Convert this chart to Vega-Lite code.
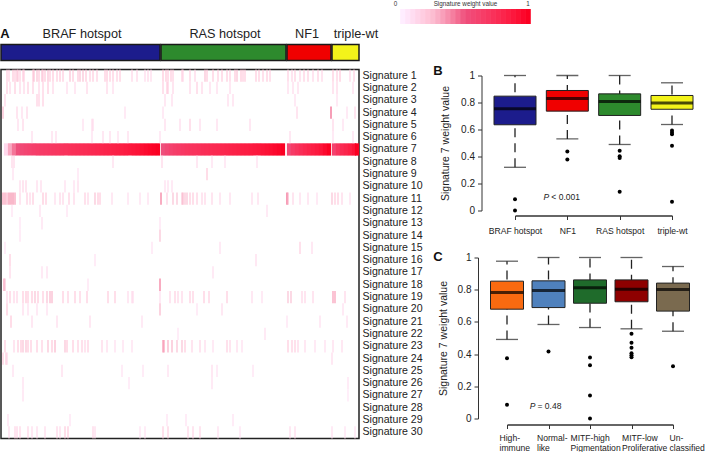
{"$schema":"https://vega.github.io/schema/vega-lite/v6.json","padding":{"left":0,"top":0,"right":0,"bottom":0},"bounds":"flush","spacing":20.5,"resolve":{"scale":{"fill":"independent"}},"config":{"view":{"stroke":null},"font":"Liberation Sans","axis":{"grid":false,"labelOverlap":false},"axisQuantitative":{"labelOverlap":false},"rect":{"continuousBandSize":1.1}},
"vconcat":[
{"width":358,"height":15,"data":{"values":[{"v":0},{"v":0.04},{"v":0.08},{"v":0.12},{"v":0.16},{"v":0.2},{"v":0.24},{"v":0.28},{"v":0.32},{"v":0.36},{"v":0.4},{"v":0.44},{"v":0.48},{"v":0.52},{"v":0.56},{"v":0.6},{"v":0.64},{"v":0.68},{"v":0.72},{"v":0.76},{"v":0.8},{"v":0.84},{"v":0.88},{"v":0.92},{"v":0.96},{"v":1}]},
"layer":[
{"mark":{"type":"rect","width":5.6},"encoding":{"x":{"field":"v","type":"quantitative","axis":null,"scale":{"domain":[0,1],"range":[402,527],"nice":false,"zero":false}},"color":{"field":"v","type":"quantitative","legend":null,"scale":{"domain":[0,0.25,0.5,1],"range":["#ffffff","#fabbcf","#ee4f7c","#fb0022"]}}}},
{"data":{"values":[{"v":-0.06,"label":"0"},{"v":1,"label":"1"},{"v":0.5,"label":"Signature weight value"}]},"mark":{"type":"text","fontSize":6.3,"dy":-13,"color":"#333"},"encoding":{"x":{"field":"v","type":"quantitative"},"text":{"field":"label"}}}
]},
{"bounds":"flush","resolve":{"scale":{"fill":"independent"}},"hconcat":[
{"bounds":"flush","resolve":{"scale":{"fill":"independent"}},"vconcat":[
{"width":358,"height":16,"data":{"values":[{"group":"BRAF hotspot","start":1,"end":160,"label_at":82},{"group":"RAS hotspot","start":161,"end":286,"label_at":225},{"group":"NF1","start":287,"end":331,"label_at":307},{"group":"triple-wt","start":332,"end":359,"label_at":356}]},
"layer":[
{"mark":{"type":"rect","stroke":"#1a1a1a","strokeWidth":1.5},"encoding":{"x":{"field":"start","type":"quantitative","axis":null,"scale":{"domain":[1,359],"nice":false,"zero":false}},"x2":{"field":"end"},"fill":{"field":"group","type":"nominal","legend":null,"scale":{"domain":["BRAF hotspot","RAS hotspot","NF1","triple-wt"],"range":["#1c1c8c","#2d8a2d","#f00000","#f3f31a"]}}}},
{"mark":{"type":"text","fontSize":12.7,"dy":-19,"color":"#222"},"encoding":{"x":{"field":"label_at","type":"quantitative"},"text":{"field":"group"}}},
{"data":{"values":[{"at":1,"letter":"A"}]},"mark":{"type":"text","fontSize":13,"fontWeight":"bold","dy":-19,"dx":4,"color":"#111"},"encoding":{"x":{"field":"at","type":"quantitative"},"text":{"field":"letter"}}}
]},
{"width":358,"height":369,"view":{"stroke":"#222","strokeWidth":1.5},"data":{"values":[
{"sig":7,"pos":6,"w":0.1},{"sig":7,"pos":10,"w":0.3},{"sig":7,"pos":14,"w":0.42},{"sig":7,"pos":18,"w":0.5},{"sig":7,"pos":22,"w":0.55},{"sig":7,"pos":26,"w":0.58},{"sig":7,"pos":30,"w":0.6},{"sig":7,"pos":34,"w":0.62},{"sig":7,"pos":38,"w":0.635},{"sig":7,"pos":42,"w":0.65},{"sig":7,"pos":46,"w":0.66},{"sig":7,"pos":50,"w":0.67},{"sig":7,"pos":54,"w":0.68},{"sig":7,"pos":58,"w":0.69},{"sig":7,"pos":62,"w":0.7},{"sig":7,"pos":66,"w":0.71},{"sig":7,"pos":70,"w":0.72},{"sig":7,"pos":74,"w":0.73},{"sig":7,"pos":78,"w":0.74},{"sig":7,"pos":82,"w":0.75},{"sig":7,"pos":86,"w":0.755},{"sig":7,"pos":90,"w":0.765},{"sig":7,"pos":94,"w":0.775},{"sig":7,"pos":98,"w":0.785},{"sig":7,"pos":102,"w":0.795},{"sig":7,"pos":106,"w":0.805},{"sig":7,"pos":110,"w":0.815},{"sig":7,"pos":114,"w":0.825},{"sig":7,"pos":118,"w":0.835},{"sig":7,"pos":122,"w":0.845},{"sig":7,"pos":126,"w":0.86},{"sig":7,"pos":130,"w":0.875},{"sig":7,"pos":134,"w":0.89},{"sig":7,"pos":138,"w":0.905},{"sig":7,"pos":142,"w":0.925},{"sig":7,"pos":146,"w":0.945},{"sig":7,"pos":150,"w":0.965},{"sig":7,"pos":154,"w":0.98},{"sig":7,"pos":158,"w":1},
{"sig":7,"pos":163,"w":0.5},{"sig":7,"pos":167,"w":0.56},{"sig":7,"pos":171,"w":0.6},{"sig":7,"pos":175,"w":0.63},{"sig":7,"pos":179,"w":0.65},{"sig":7,"pos":183,"w":0.67},{"sig":7,"pos":187,"w":0.69},{"sig":7,"pos":191,"w":0.7},{"sig":7,"pos":195,"w":0.71},{"sig":7,"pos":199,"w":0.72},{"sig":7,"pos":203,"w":0.74},{"sig":7,"pos":207,"w":0.75},{"sig":7,"pos":211,"w":0.76},{"sig":7,"pos":215,"w":0.77},{"sig":7,"pos":219,"w":0.78},{"sig":7,"pos":223,"w":0.79},{"sig":7,"pos":227,"w":0.8},{"sig":7,"pos":231,"w":0.81},{"sig":7,"pos":235,"w":0.82},{"sig":7,"pos":239,"w":0.83},{"sig":7,"pos":243,"w":0.84},{"sig":7,"pos":247,"w":0.85},{"sig":7,"pos":251,"w":0.86},{"sig":7,"pos":255,"w":0.87},{"sig":7,"pos":259,"w":0.885},{"sig":7,"pos":263,"w":0.9},{"sig":7,"pos":267,"w":0.915},{"sig":7,"pos":271,"w":0.93},{"sig":7,"pos":275,"w":0.95},{"sig":7,"pos":279,"w":0.97},{"sig":7,"pos":283,"w":1},
{"sig":7,"pos":289,"w":0.55},{"sig":7,"pos":293,"w":0.65},{"sig":7,"pos":297,"w":0.7},{"sig":7,"pos":301,"w":0.74},{"sig":7,"pos":305,"w":0.78},{"sig":7,"pos":309,"w":0.81},{"sig":7,"pos":313,"w":0.84},{"sig":7,"pos":317,"w":0.87},{"sig":7,"pos":321,"w":0.9},{"sig":7,"pos":325,"w":0.95},{"sig":7,"pos":329,"w":1},
{"sig":7,"pos":334,"w":0.6},{"sig":7,"pos":338,"w":0.7},{"sig":7,"pos":342,"w":0.76},{"sig":7,"pos":346,"w":0.8},{"sig":7,"pos":350,"w":0.84},{"sig":7,"pos":354,"w":0.9},{"sig":7,"pos":357,"w":1}
]},
"layer":[
{"mark":{"type":"rect","width":4.2},"encoding":{"x":{"field":"pos","type":"quantitative","axis":null,"scale":{"domain":[1,359],"nice":false,"zero":false}},"y":{"field":"sig","type":"ordinal","scale":{"domain":[1,2,3,4,5,6,7,8,9,10,11,12,13,14,15,16,17,18,19,20,21,22,23,24,25,26,27,28,29,30],"paddingInner":0,"paddingOuter":0},"axis":{"orient":"right","title":null,"ticks":false,"domain":false,"labelExpr":"'Signature '+datum.label","labelFontSize":10.6,"labelColor":"#222","labelPadding":3}},"color":{"field":"w","type":"quantitative","legend":null,"scale":{"domain":[0,0.25,0.5,1],"range":["#ffffff","#fabbcf","#ee4f7c","#fb0022"]}}}},
{"data":{"values":[
{"sig":1,"pos":7,"w":0.2},{"sig":1,"pos":9,"w":0.18},{"sig":1,"pos":13,"w":0.22},{"sig":1,"pos":15,"w":0.2},{"sig":1,"pos":17,"w":0.25},{"sig":1,"pos":18,"w":0.2},{"sig":1,"pos":20,"w":0.18},{"sig":1,"pos":23,"w":0.2},{"sig":1,"pos":24,"w":0.18},{"sig":1,"pos":33,"w":0.22},{"sig":1,"pos":34,"w":0.25},{"sig":1,"pos":37,"w":0.25},{"sig":1,"pos":39,"w":0.22},{"sig":1,"pos":42,"w":0.25},{"sig":1,"pos":43,"w":0.2},{"sig":1,"pos":45,"w":0.22},{"sig":1,"pos":48,"w":0.25},{"sig":1,"pos":50,"w":0.2},{"sig":1,"pos":53,"w":0.22},{"sig":1,"pos":57,"w":0.2},{"sig":1,"pos":60,"w":0.22},{"sig":1,"pos":63,"w":0.2},{"sig":1,"pos":70,"w":0.25},{"sig":1,"pos":73,"w":0.22},{"sig":1,"pos":78,"w":0.22},{"sig":1,"pos":80,"w":0.25},{"sig":1,"pos":83,"w":0.25},{"sig":1,"pos":86,"w":0.22},{"sig":1,"pos":90,"w":0.18},{"sig":1,"pos":93,"w":0.2},{"sig":1,"pos":97,"w":0.18},{"sig":1,"pos":105,"w":0.2},{"sig":1,"pos":107,"w":0.22},{"sig":1,"pos":110,"w":0.2},{"sig":1,"pos":113,"w":0.2},{"sig":1,"pos":117,"w":0.18},{"sig":1,"pos":120,"w":0.2},{"sig":1,"pos":132,"w":0.15},{"sig":1,"pos":137,"w":0.15},{"sig":1,"pos":145,"w":0.12},{"sig":1,"pos":148,"w":0.14},{"sig":1,"pos":151,"w":0.12},{"sig":1,"pos":163,"w":0.22},{"sig":1,"pos":166,"w":0.22},{"sig":1,"pos":168,"w":0.2},{"sig":1,"pos":171,"w":0.2},{"sig":1,"pos":173,"w":0.18},{"sig":1,"pos":182,"w":0.18},{"sig":1,"pos":183,"w":0.15},{"sig":1,"pos":190,"w":0.18},{"sig":1,"pos":195,"w":0.15},{"sig":1,"pos":205,"w":0.25},{"sig":1,"pos":207,"w":0.22},{"sig":1,"pos":213,"w":0.2},{"sig":1,"pos":218,"w":0.18},{"sig":1,"pos":222,"w":0.2},{"sig":1,"pos":227,"w":0.2},{"sig":1,"pos":230,"w":0.18},{"sig":1,"pos":235,"w":0.22},{"sig":1,"pos":237,"w":0.25},{"sig":1,"pos":241,"w":0.22},{"sig":1,"pos":243,"w":0.2},{"sig":1,"pos":245,"w":0.2},{"sig":1,"pos":256,"w":0.2},{"sig":1,"pos":259,"w":0.2},{"sig":1,"pos":263,"w":0.18},{"sig":1,"pos":267,"w":0.2},{"sig":1,"pos":270,"w":0.18},{"sig":1,"pos":288,"w":0.18},{"sig":1,"pos":292,"w":0.15},{"sig":1,"pos":295,"w":0.18},{"sig":1,"pos":300,"w":0.15},{"sig":1,"pos":304,"w":0.18},{"sig":1,"pos":308,"w":0.18},{"sig":1,"pos":313,"w":0.15},{"sig":1,"pos":318,"w":0.18},{"sig":1,"pos":322,"w":0.15},{"sig":1,"pos":333,"w":0.2},{"sig":1,"pos":337,"w":0.18},{"sig":1,"pos":340,"w":0.22},{"sig":1,"pos":350,"w":0.15},{"sig":1,"pos":354,"w":0.18},
{"sig":2,"pos":7,"w":0.2},{"sig":2,"pos":10,"w":0.15},{"sig":2,"pos":15,"w":0.2},{"sig":2,"pos":20,"w":0.15},{"sig":2,"pos":24,"w":0.15},{"sig":2,"pos":28,"w":0.18},{"sig":2,"pos":33,"w":0.18},{"sig":2,"pos":39,"w":0.15},{"sig":2,"pos":43,"w":0.18},{"sig":2,"pos":48,"w":0.2},{"sig":2,"pos":53,"w":0.15},{"sig":2,"pos":67,"w":0.12},{"sig":2,"pos":75,"w":0.12},{"sig":2,"pos":87,"w":0.15},{"sig":2,"pos":107,"w":0.15},{"sig":2,"pos":113,"w":0.12},{"sig":2,"pos":163,"w":0.18},{"sig":2,"pos":167,"w":0.2},{"sig":2,"pos":168,"w":0.18},{"sig":2,"pos":173,"w":0.15},{"sig":2,"pos":190,"w":0.15},{"sig":2,"pos":197,"w":0.18},{"sig":2,"pos":202,"w":0.15},{"sig":2,"pos":210,"w":0.12},{"sig":2,"pos":217,"w":0.12},{"sig":2,"pos":230,"w":0.12},{"sig":2,"pos":288,"w":0.12},{"sig":2,"pos":293,"w":0.12},{"sig":2,"pos":298,"w":0.12},{"sig":2,"pos":333,"w":0.15},{"sig":2,"pos":337,"w":0.15},{"sig":2,"pos":353,"w":0.12},
{"sig":3,"pos":5,"w":0.15},{"sig":3,"pos":37,"w":0.18},{"sig":3,"pos":39,"w":0.18},{"sig":3,"pos":43,"w":0.18},{"sig":3,"pos":165,"w":0.12},{"sig":3,"pos":172,"w":0.12},{"sig":3,"pos":228,"w":0.12},{"sig":3,"pos":233,"w":0.12},{"sig":3,"pos":295,"w":0.1},{"sig":3,"pos":337,"w":0.1},
{"sig":4,"pos":3,"w":0.28},{"sig":4,"pos":17,"w":0.15},{"sig":4,"pos":22,"w":0.12},{"sig":4,"pos":27,"w":0.15},{"sig":4,"pos":125,"w":0.1},{"sig":4,"pos":163,"w":0.1},{"sig":4,"pos":297,"w":0.15},{"sig":4,"pos":331,"w":0.5},{"sig":4,"pos":347,"w":0.1},{"sig":4,"pos":355,"w":0.15},
{"sig":5,"pos":18,"w":0.12},{"sig":5,"pos":23,"w":0.15},{"sig":5,"pos":83,"w":0.1},{"sig":5,"pos":92,"w":0.12},{"sig":5,"pos":93,"w":0.12},{"sig":5,"pos":165,"w":0.12},{"sig":5,"pos":180,"w":0.12},{"sig":5,"pos":190,"w":0.18},{"sig":5,"pos":200,"w":0.12},{"sig":5,"pos":217,"w":0.12},{"sig":5,"pos":250,"w":0.12},{"sig":5,"pos":333,"w":0.15},{"sig":5,"pos":343,"w":0.1},
{"sig":6,"pos":32,"w":0.12},{"sig":6,"pos":52,"w":0.12},{"sig":6,"pos":56,"w":0.12},{"sig":6,"pos":92,"w":0.1},{"sig":6,"pos":103,"w":0.12},{"sig":6,"pos":110,"w":0.12},{"sig":6,"pos":118,"w":0.1},{"sig":6,"pos":128,"w":0.12},{"sig":6,"pos":160,"w":0.1},{"sig":6,"pos":290,"w":0.12},{"sig":6,"pos":333,"w":0.1},{"sig":6,"pos":353,"w":0.1},
{"sig":8,"pos":12,"w":0.15},{"sig":8,"pos":14,"w":0.15},{"sig":8,"pos":113,"w":0.12},{"sig":8,"pos":162,"w":0.15},{"sig":8,"pos":197,"w":0.12},{"sig":8,"pos":212,"w":0.1},{"sig":8,"pos":225,"w":0.1},{"sig":8,"pos":257,"w":0.1},
{"sig":9,"pos":13,"w":0.1},{"sig":9,"pos":78,"w":0.08},{"sig":9,"pos":207,"w":0.22},
{"sig":10,"pos":20,"w":0.12},{"sig":10,"pos":23,"w":0.15},{"sig":10,"pos":26,"w":0.15},{"sig":10,"pos":37,"w":0.12},{"sig":10,"pos":41,"w":0.12},{"sig":10,"pos":65,"w":0.1},{"sig":10,"pos":74,"w":0.1},{"sig":10,"pos":78,"w":0.12},{"sig":10,"pos":165,"w":0.1},{"sig":10,"pos":168,"w":0.1},{"sig":10,"pos":172,"w":0.1},
{"sig":11,"pos":3,"w":0.35},{"sig":11,"pos":5,"w":0.35},{"sig":11,"pos":7,"w":0.3},{"sig":11,"pos":9,"w":0.4},{"sig":11,"pos":11,"w":0.4},{"sig":11,"pos":13,"w":0.4},{"sig":11,"pos":15,"w":0.35},{"sig":11,"pos":20,"w":0.15},{"sig":11,"pos":27,"w":0.18},{"sig":11,"pos":30,"w":0.15},{"sig":11,"pos":33,"w":0.2},{"sig":11,"pos":43,"w":0.22},{"sig":11,"pos":46,"w":0.2},{"sig":11,"pos":55,"w":0.12},{"sig":11,"pos":60,"w":0.15},{"sig":11,"pos":63,"w":0.15},{"sig":11,"pos":69,"w":0.18},{"sig":11,"pos":74,"w":0.15},{"sig":11,"pos":85,"w":0.18},{"sig":11,"pos":88,"w":0.15},{"sig":11,"pos":95,"w":0.25},{"sig":11,"pos":98,"w":0.22},{"sig":11,"pos":100,"w":0.2},{"sig":11,"pos":112,"w":0.12},{"sig":11,"pos":128,"w":0.1},{"sig":11,"pos":140,"w":0.1},{"sig":11,"pos":148,"w":0.1},
{"sig":11,"pos":161,"w":0.45},{"sig":11,"pos":167,"w":0.18},{"sig":11,"pos":173,"w":0.25},{"sig":11,"pos":177,"w":0.25},{"sig":11,"pos":182,"w":0.25},{"sig":11,"pos":183,"w":0.28},{"sig":11,"pos":185,"w":0.25},{"sig":11,"pos":187,"w":0.25},{"sig":11,"pos":190,"w":0.2},{"sig":11,"pos":193,"w":0.2},{"sig":11,"pos":197,"w":0.18},{"sig":11,"pos":202,"w":0.15},{"sig":11,"pos":205,"w":0.15},{"sig":11,"pos":212,"w":0.15},{"sig":11,"pos":220,"w":0.12},{"sig":11,"pos":230,"w":0.12},{"sig":11,"pos":252,"w":0.12},{"sig":11,"pos":258,"w":0.12},
{"sig":11,"pos":287,"w":0.5},{"sig":11,"pos":288,"w":0.3},{"sig":11,"pos":293,"w":0.15},{"sig":11,"pos":300,"w":0.12},{"sig":11,"pos":308,"w":0.12},{"sig":11,"pos":317,"w":0.1},{"sig":11,"pos":332,"w":0.25},{"sig":11,"pos":335,"w":0.2},{"sig":11,"pos":338,"w":0.2},{"sig":11,"pos":342,"w":0.15},{"sig":11,"pos":350,"w":0.1},
{"sig":12,"pos":12,"w":0.08},{"sig":12,"pos":40,"w":0.1},{"sig":12,"pos":67,"w":0.08},{"sig":12,"pos":267,"w":0.1},
{"sig":13,"pos":20,"w":0.07},{"sig":13,"pos":42,"w":0.1},{"sig":13,"pos":160,"w":0.08},
{"sig":14,"pos":20,"w":0.08},{"sig":14,"pos":160,"w":0.25},
{"sig":15,"pos":5,"w":0.07},{"sig":15,"pos":152,"w":0.08},{"sig":15,"pos":220,"w":0.1},{"sig":15,"pos":300,"w":0.18},{"sig":15,"pos":312,"w":0.12},
{"sig":16,"pos":10,"w":0.2},{"sig":16,"pos":95,"w":0.08},{"sig":16,"pos":256,"w":0.12},
{"sig":17,"pos":10,"w":0.15},{"sig":17,"pos":42,"w":0.1},{"sig":17,"pos":47,"w":0.1},{"sig":17,"pos":213,"w":0.1},
{"sig":18,"pos":4,"w":0.35},{"sig":18,"pos":5,"w":0.25},{"sig":18,"pos":88,"w":0.08},{"sig":18,"pos":160,"w":0.45},
{"sig":19,"pos":7,"w":0.15},{"sig":19,"pos":10,"w":0.2},{"sig":19,"pos":14,"w":0.15},{"sig":19,"pos":17,"w":0.15},{"sig":19,"pos":23,"w":0.2},{"sig":19,"pos":26,"w":0.22},{"sig":19,"pos":28,"w":0.2},{"sig":19,"pos":32,"w":0.22},{"sig":19,"pos":35,"w":0.25},{"sig":19,"pos":38,"w":0.22},{"sig":19,"pos":43,"w":0.2},{"sig":19,"pos":47,"w":0.25},{"sig":19,"pos":50,"w":0.28},{"sig":19,"pos":52,"w":0.28},{"sig":19,"pos":63,"w":0.2},{"sig":19,"pos":68,"w":0.18},{"sig":19,"pos":75,"w":0.2},{"sig":19,"pos":80,"w":0.18},{"sig":19,"pos":87,"w":0.2},{"sig":19,"pos":108,"w":0.2},{"sig":19,"pos":115,"w":0.2},{"sig":19,"pos":128,"w":0.12},{"sig":19,"pos":132,"w":0.12},{"sig":19,"pos":133,"w":0.12},{"sig":19,"pos":160,"w":0.1},{"sig":19,"pos":170,"w":0.15},{"sig":19,"pos":175,"w":0.18},{"sig":19,"pos":178,"w":0.15},{"sig":19,"pos":182,"w":0.15},{"sig":19,"pos":190,"w":0.18},{"sig":19,"pos":193,"w":0.18},{"sig":19,"pos":204,"w":0.2},{"sig":19,"pos":209,"w":0.18},{"sig":19,"pos":227,"w":0.2},{"sig":19,"pos":252,"w":0.12},{"sig":19,"pos":262,"w":0.1},{"sig":19,"pos":288,"w":0.25},{"sig":19,"pos":291,"w":0.25},{"sig":19,"pos":302,"w":0.15},{"sig":19,"pos":305,"w":0.15},{"sig":19,"pos":313,"w":0.15},{"sig":19,"pos":333,"w":0.35},{"sig":19,"pos":335,"w":0.35},{"sig":19,"pos":345,"w":0.15},
{"sig":20,"pos":7,"w":0.22},{"sig":20,"pos":23,"w":0.12},{"sig":20,"pos":28,"w":0.1},{"sig":20,"pos":37,"w":0.1},{"sig":20,"pos":47,"w":0.1},{"sig":20,"pos":160,"w":0.28},{"sig":20,"pos":197,"w":0.08},{"sig":20,"pos":222,"w":0.12},{"sig":20,"pos":343,"w":0.1},
{"sig":21,"pos":11,"w":0.22},{"sig":21,"pos":32,"w":0.12},{"sig":21,"pos":57,"w":0.12},{"sig":21,"pos":90,"w":0.12},{"sig":21,"pos":142,"w":0.1},{"sig":21,"pos":287,"w":0.08},{"sig":21,"pos":320,"w":0.1},{"sig":21,"pos":347,"w":0.1},
{"sig":22,"pos":178,"w":0.07},{"sig":22,"pos":265,"w":0.1},
{"sig":23,"pos":5,"w":0.2},{"sig":23,"pos":14,"w":0.15},{"sig":23,"pos":18,"w":0.2},{"sig":23,"pos":21,"w":0.22},{"sig":23,"pos":23,"w":0.25},{"sig":23,"pos":26,"w":0.25},{"sig":23,"pos":28,"w":0.22},{"sig":23,"pos":31,"w":0.2},{"sig":23,"pos":37,"w":0.2},{"sig":23,"pos":42,"w":0.18},{"sig":23,"pos":48,"w":0.25},{"sig":23,"pos":52,"w":0.22},{"sig":23,"pos":55,"w":0.28},{"sig":23,"pos":65,"w":0.25},{"sig":23,"pos":67,"w":0.22},{"sig":23,"pos":73,"w":0.2},{"sig":23,"pos":78,"w":0.18},{"sig":23,"pos":82,"w":0.18},{"sig":23,"pos":85,"w":0.15},{"sig":23,"pos":88,"w":0.18},{"sig":23,"pos":102,"w":0.15},{"sig":23,"pos":107,"w":0.12},{"sig":23,"pos":115,"w":0.1},{"sig":23,"pos":123,"w":0.1},{"sig":23,"pos":132,"w":0.1},
{"sig":23,"pos":163,"w":0.38},{"sig":23,"pos":164,"w":0.35},{"sig":23,"pos":168,"w":0.3},{"sig":23,"pos":172,"w":0.28},{"sig":23,"pos":177,"w":0.25},{"sig":23,"pos":182,"w":0.25},{"sig":23,"pos":185,"w":0.2},{"sig":23,"pos":192,"w":0.15},{"sig":23,"pos":200,"w":0.15},{"sig":23,"pos":205,"w":0.12},{"sig":23,"pos":213,"w":0.1},{"sig":23,"pos":227,"w":0.18},{"sig":23,"pos":230,"w":0.15},{"sig":23,"pos":237,"w":0.12},{"sig":23,"pos":242,"w":0.1},
{"sig":23,"pos":288,"w":0.2},{"sig":23,"pos":292,"w":0.18},{"sig":23,"pos":295,"w":0.18},{"sig":23,"pos":298,"w":0.15},{"sig":23,"pos":305,"w":0.12},{"sig":23,"pos":315,"w":0.1},{"sig":23,"pos":325,"w":0.1},{"sig":23,"pos":333,"w":0.12},{"sig":23,"pos":342,"w":0.12},
{"sig":24,"pos":3,"w":0.2},{"sig":24,"pos":6,"w":0.2},{"sig":24,"pos":7,"w":0.15},{"sig":24,"pos":332,"w":0.12},
{"sig":25,"pos":13,"w":0.1},{"sig":25,"pos":62,"w":0.12},{"sig":25,"pos":122,"w":0.08},{"sig":25,"pos":143,"w":0.08},{"sig":25,"pos":168,"w":0.1},{"sig":25,"pos":212,"w":0.12},{"sig":25,"pos":217,"w":0.08},{"sig":25,"pos":253,"w":0.08},
{"sig":26,"pos":23,"w":0.1},{"sig":26,"pos":129,"w":0.07},{"sig":26,"pos":212,"w":0.1},{"sig":26,"pos":348,"w":0.08},
{"sig":27,"pos":23,"w":0.1},{"sig":27,"pos":348,"w":0.06},
{"sig":29,"pos":8,"w":0.1},{"sig":29,"pos":70,"w":0.08},{"sig":29,"pos":167,"w":0.08},{"sig":29,"pos":186,"w":0.08},{"sig":29,"pos":233,"w":0.08},
{"sig":30,"pos":9,"w":0.12},{"sig":30,"pos":15,"w":0.15},{"sig":30,"pos":17,"w":0.15},{"sig":30,"pos":20,"w":0.15},{"sig":30,"pos":28,"w":0.15},{"sig":30,"pos":32,"w":0.12},{"sig":30,"pos":37,"w":0.12},{"sig":30,"pos":45,"w":0.12},{"sig":30,"pos":57,"w":0.15},{"sig":30,"pos":60,"w":0.12},{"sig":30,"pos":65,"w":0.2},{"sig":30,"pos":68,"w":0.2},{"sig":30,"pos":93,"w":0.15},{"sig":30,"pos":95,"w":0.12},{"sig":30,"pos":140,"w":0.08},{"sig":30,"pos":145,"w":0.08},{"sig":30,"pos":163,"w":0.18},{"sig":30,"pos":168,"w":0.18},{"sig":30,"pos":188,"w":0.15},{"sig":30,"pos":193,"w":0.15},{"sig":30,"pos":200,"w":0.15},{"sig":30,"pos":218,"w":0.1},{"sig":30,"pos":240,"w":0.08},{"sig":30,"pos":290,"w":0.12},{"sig":30,"pos":295,"w":0.12},{"sig":30,"pos":332,"w":0.1},{"sig":30,"pos":345,"w":0.08},{"sig":30,"pos":355,"w":0.08}
]},"mark":{"type":"rect","width":1.1},"encoding":{"x":{"field":"pos","type":"quantitative"},"y":{"field":"sig","type":"ordinal"},"color":{"field":"w","type":"quantitative"}}}
]}
],"spacing":9},
{"bounds":"flush","resolve":{"scale":{"fill":"independent"}},"vconcat":[
{"width":166,"height":166,"data":{"values":[{"group":"BRAF hotspot","q1":0.635,"median":0.753,"q3":0.847,"low":0.32,"high":1},{"group":"NF1","q1":0.736,"median":0.83,"q3":0.889,"low":0.53,"high":1},{"group":"RAS hotspot","q1":0.704,"median":0.807,"q3":0.864,"low":0.489,"high":1},{"group":"triple-wt","q1":0.75,"median":0.797,"q3":0.852,"low":0.637,"high":0.946}]},
"encoding":{"x":{"field":"group","type":"nominal","sort":null,"scale":{"type":"point","domain":["BRAF hotspot","NF1","RAS hotspot","triple-wt"],"range":[8,165],"padding":0},"axis":{"title":null,"offset":5,"labelAngle":0,"labelFontSize":8.6,"labelColor":"#222","labelPadding":6.5,"tickSize":4,"tickColor":"#333","domainColor":"#333","domainWidth":1.5,"labelOverlap":false}}},
"layer":[
{"mark":{"type":"rule","strokeDash":[9,6],"strokeWidth":1.3,"color":"#222"},"encoding":{"y":{"field":"low","type":"quantitative","scale":{"domain":[0,1],"range":[166,31],"nice":false},"axis":{"title":"Signature 7 weight value","titleFontSize":10.5,"titleFontWeight":"normal","titleColor":"#222","titlePadding":10,"offset":25.5,"values":[0,0.2,0.4,0.6,0.8,1],"tickCount":6,"labelOverlap":false,"format":".1~f","labelFontSize":10,"labelColor":"#222","tickSize":4,"tickColor":"#333","domainColor":"#333","labelPadding":3}},"y2":{"field":"high"}}},
{"mark":{"type":"tick","size":22,"thickness":1.3,"color":"#222"},"encoding":{"y":{"field":"low","type":"quantitative"}}},
{"mark":{"type":"tick","size":22,"thickness":1.3,"color":"#222"},"encoding":{"y":{"field":"high","type":"quantitative"}}},
{"mark":{"type":"bar","width":42,"stroke":"#222","strokeWidth":1},"encoding":{"y":{"field":"q1","type":"quantitative"},"y2":{"field":"q3"},"fill":{"field":"group","type":"nominal","legend":null,"scale":{"domain":["BRAF hotspot","NF1","RAS hotspot","triple-wt"],"range":["#1c1c8c","#f00000","#2d8a2d","#f3f31a"]}}}},
{"mark":{"type":"tick","size":42,"thickness":3,"color":"#000"},"encoding":{"y":{"field":"median","type":"quantitative"}}},
{"data":{"values":[{"group":"BRAF hotspot","outlier":0.084},{"group":"BRAF hotspot","outlier":0},{"group":"NF1","outlier":0.437},{"group":"NF1","outlier":0.378},{"group":"RAS hotspot","outlier":0.442},{"group":"RAS hotspot","outlier":0.402},{"group":"RAS hotspot","outlier":0.388},{"group":"RAS hotspot","outlier":0.138},{"group":"triple-wt","outlier":0.593},{"group":"triple-wt","outlier":0.578},{"group":"triple-wt","outlier":0.565},{"group":"triple-wt","outlier":0.479},{"group":"triple-wt","outlier":0.064}]},"mark":{"type":"circle","size":16,"color":"#000","opacity":1},"encoding":{"y":{"field":"outlier","type":"quantitative"}}},
{"data":{"values":[{"group":"NF1","at":0.1,"note":"P"}]},"mark":{"type":"text","fontSize":8.5,"fontStyle":"italic","dx":-21,"color":"#222"},"encoding":{"y":{"field":"at","type":"quantitative"},"text":{"field":"note"}}},
{"data":{"values":[{"group":"NF1","at":0.1,"note":"< 0.001"}]},"mark":{"type":"text","fontSize":8.5,"dx":-16,"color":"#222","align":"left"},"encoding":{"y":{"field":"at","type":"quantitative"},"text":{"field":"note"}}},
{"data":{"values":[{"group":"BRAF hotspot","at":1.03,"note":"B"}]},"mark":{"type":"text","fontSize":13,"fontWeight":"bold","dx":-77,"color":"#111"},"encoding":{"y":{"field":"at","type":"quantitative"},"text":{"field":"note"}}}
]},
{"width":166,"height":161,"data":{"values":[{"group":"High-immune","q1":0.679,"median":0.783,"q3":0.853,"low":0.491,"high":0.977},{"group":"Normal-like","q1":0.689,"median":0.795,"q3":0.855,"low":0.584,"high":1},{"group":"MITF-high Pigmentation","q1":0.716,"median":0.812,"q3":0.861,"low":0.565,"high":1},{"group":"MITF-low Proliferative","q1":0.725,"median":0.803,"q3":0.861,"low":0.557,"high":1},{"group":"Un-classified","q1":0.667,"median":0.801,"q3":0.841,"low":0.542,"high":0.944}]},
"encoding":{"x":{"field":"group","type":"nominal","sort":null,"scale":{"type":"point","domain":["High-immune","Normal-like","MITF-high Pigmentation","MITF-low Proliferative","Un-classified"],"range":[0,166],"padding":0},"axis":{"title":null,"offset":6,"labelAngle":0,"labelFontSize":8.6,"labelColor":"#222","labelPadding":4.5,"labelLineHeight":10,"tickSize":4,"tickColor":"#333","domainColor":"#333","domainWidth":1.5,"labelOverlap":false,"labelBound":false,"labelFlush":false,"labelAlign":"left","labelOffset":{"condition":[{"test":"datum.value==='High-immune'","value":-8},{"test":"datum.value==='Normal-like'","value":-12},{"test":"datum.value==='MITF-high Pigmentation'","value":-20},{"test":"datum.value==='MITF-low Proliferative'","value":-10}],"value":-4},"labelExpr":"{'High-immune':['High-','immune'],'Normal-like':['Normal-','like'],'MITF-high Pigmentation':['MITF-high','Pigmentation'],'MITF-low Proliferative':['MITF-low','Proliferative'],'Un-classified':['Un-','classified']}[datum.label]"}}},
"layer":[
{"mark":{"type":"rule","strokeDash":[9,6],"strokeWidth":1.3,"color":"#222"},"encoding":{"y":{"field":"low","type":"quantitative","scale":{"domain":[0,1],"nice":false},"axis":{"title":"Signature 7 weight value","titleFontSize":10.5,"titleFontWeight":"normal","titleColor":"#222","titlePadding":9,"offset":29,"values":[0,0.2,0.4,0.6,0.8,1],"tickCount":6,"labelOverlap":false,"format":".1~f","labelFontSize":10,"labelColor":"#222","tickSize":4,"tickColor":"#333","domainColor":"#333","labelPadding":3}},"y2":{"field":"high"}}},
{"mark":{"type":"tick","size":22,"thickness":1.3,"color":"#222"},"encoding":{"y":{"field":"low","type":"quantitative"}}},
{"mark":{"type":"tick","size":22,"thickness":1.3,"color":"#222"},"encoding":{"y":{"field":"high","type":"quantitative"}}},
{"mark":{"type":"bar","width":33,"stroke":"#222","strokeWidth":1},"encoding":{"y":{"field":"q1","type":"quantitative"},"y2":{"field":"q3"},"fill":{"field":"group","type":"nominal","legend":null,"scale":{"domain":["High-immune","Normal-like","MITF-high Pigmentation","MITF-low Proliferative","Un-classified"],"range":["#f96a10","#4f81bd","#1f6b2b","#8e0000","#7a6a4f"]}}}},
{"mark":{"type":"tick","size":33,"thickness":3,"color":"#000"},"encoding":{"y":{"field":"median","type":"quantitative"}}},
{"data":{"values":[{"group":"High-immune","outlier":0.375},{"group":"High-immune","outlier":0.085},{"group":"Normal-like","outlier":0.416},{"group":"MITF-high Pigmentation","outlier":0.379},{"group":"MITF-high Pigmentation","outlier":0.331},{"group":"MITF-high Pigmentation","outlier":0.143},{"group":"MITF-high Pigmentation","outlier":0},{"group":"MITF-low Proliferative","outlier":0.526},{"group":"MITF-low Proliferative","outlier":0.47},{"group":"MITF-low Proliferative","outlier":0.439},{"group":"MITF-low Proliferative","outlier":0.406},{"group":"MITF-low Proliferative","outlier":0.393},{"group":"MITF-low Proliferative","outlier":0.381},{"group":"Un-classified","outlier":0.325}]},"mark":{"type":"circle","size":16,"color":"#000","opacity":1},"encoding":{"y":{"field":"outlier","type":"quantitative"}}},
{"data":{"values":[{"group":"Normal-like","at":0.08,"note":"P"}]},"mark":{"type":"text","fontSize":8.5,"fontStyle":"italic","dx":-16,"color":"#222"},"encoding":{"y":{"field":"at","type":"quantitative"},"text":{"field":"note"}}},
{"data":{"values":[{"group":"Normal-like","at":0.08,"note":"= 0.48"}]},"mark":{"type":"text","fontSize":8.5,"dx":-11,"color":"#222","align":"left"},"encoding":{"y":{"field":"at","type":"quantitative"},"text":{"field":"note"}}},
{"data":{"values":[{"group":"High-immune","at":1,"note":"C"}]},"mark":{"type":"text","fontSize":13,"fontWeight":"bold","dx":-69,"dy":-1,"color":"#111"},"encoding":{"y":{"field":"at","type":"quantitative"},"text":{"field":"note"}}}
]}
],"spacing":47}
],"spacing":506}
]}
